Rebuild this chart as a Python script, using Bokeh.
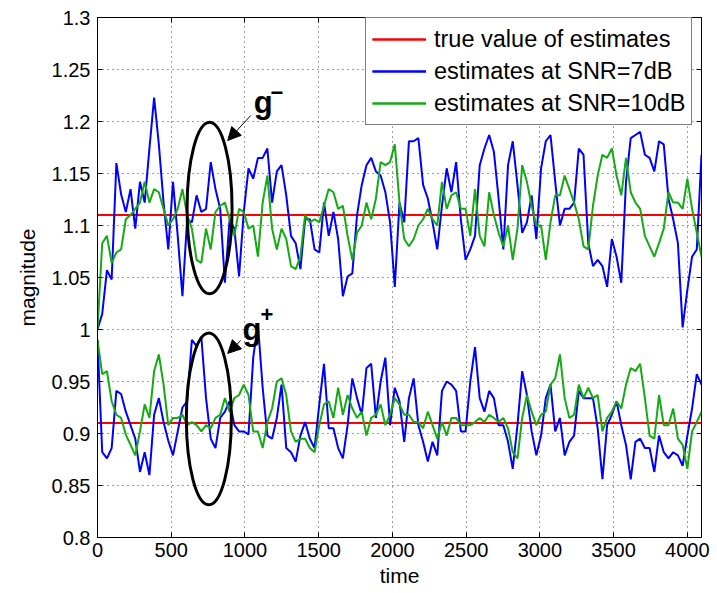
from bokeh.plotting import figure
from bokeh.models import (Legend, LegendItem, FixedTicker, LinearAxis, Range1d,
                          Arrow, NormalHead, Label)
from bokeh.embed import file_html
from bokeh.resources import INLINE

# ---------------- data ----------------
time = list(range(0, 4097, 32))

true_values = [1.11, 0.91]

blue_upper = [
    1.0, 1.015, 1.057, 1.048, 1.16, 1.13, 1.113, 1.135, 1.097, 1.142, 1.122, 1.174, 1.223, 1.178, 1.122, 1.077, 1.142,
    1.09, 1.032, 1.106, 1.103, 1.129, 1.113, 1.116, 1.161, 1.135, 1.116, 1.045, 1.106, 1.097, 1.051, 1.113, 1.155,
    1.145, 1.165, 1.165, 1.174, 1.122, 1.152, 1.158, 1.129, 1.09, 1.083, 1.058, 1.106, 1.106, 1.077, 1.074, 1.122,
    1.09, 1.113, 1.087, 1.032, 1.051, 1.054, 1.11, 1.139, 1.158, 1.165, 1.152, 1.148, 1.132, 1.103, 1.041, 1.122,
    1.103, 1.181, 1.181, 1.184, 1.139, 1.126, 1.103, 1.077, 1.119, 1.155, 1.132, 1.161, 1.106, 1.067, 1.077,
    1.09, 1.158, 1.174, 1.187, 1.171, 1.126, 1.077, 1.158, 1.181, 1.139, 1.093, 1.103, 1.129, 1.087, 1.155, 1.181,
    1.187, 1.142, 1.10, 1.116, 1.116, 1.122, 1.174, 1.168, 1.083, 1.061, 1.067, 1.061, 1.041, 1.087, 1.07, 1.045,
    1.142, 1.184, 1.187, 1.19, 1.168, 1.165, 1.152, 1.181, 1.178, 1.126, 1.106, 1.083, 1.002, 1.038, 1.07, 1.077, 1.168,
]

green_upper = [
    1.0, 1.083, 1.09, 1.064, 1.074, 1.077, 1.106, 1.11, 1.116, 1.122, 1.142, 1.122, 1.135, 1.132, 1.116, 1.10, 1.106,
    1.116, 1.135, 1.11, 1.097, 1.067, 1.064, 1.097, 1.077, 1.113, 1.119, 1.122, 1.106, 1.09, 1.116, 1.113, 1.097,
    1.10, 1.07, 1.122, 1.148, 1.097, 1.077, 1.097, 1.087, 1.061, 1.058, 1.07, 1.11, 1.103, 1.106, 1.103, 1.119,
    1.135, 1.132, 1.116, 1.119, 1.09, 1.067, 1.093, 1.10, 1.122, 1.106, 1.126, 1.161, 1.158, 1.161, 1.178, 1.122,
    1.087, 1.08, 1.087, 1.10, 1.106, 1.116, 1.106, 1.10, 1.142, 1.116, 1.129, 1.132, 1.116, 1.116, 1.09,
    1.135, 1.09, 1.08, 1.132, 1.11, 1.093, 1.08, 1.10, 1.067, 1.097, 1.158, 1.142, 1.119, 1.10, 1.10, 1.067,
    1.103, 1.129, 1.129, 1.148, 1.135, 1.122, 1.106, 1.08, 1.077, 1.119, 1.148, 1.168, 1.165, 1.174, 1.148, 1.129,
    1.165, 1.132, 1.122, 1.116, 1.09, 1.08, 1.07, 1.083, 1.097, 1.132, 1.122, 1.122, 1.116, 1.145, 1.116, 1.093, 1.07,
]

blue_lower = [
    0.99, 0.882, 0.876, 0.886, 0.941, 0.938, 0.921, 0.908, 0.895, 0.863, 0.882, 0.86, 0.918, 0.934, 0.911, 0.893, 0.879,
    0.902, 0.925, 0.931, 0.99, 0.984, 0.993, 0.934, 0.895, 0.886, 0.915, 0.921, 0.931, 0.908, 0.902, 0.902, 0.899,
    0.973, 1.005, 0.944, 0.898, 0.895, 0.915, 0.947, 0.886, 0.882, 0.873, 0.898, 0.911, 0.895, 0.886, 0.928, 0.967,
    0.905, 0.905, 0.886, 0.876, 0.908, 0.953, 0.934, 0.918, 0.963, 0.967, 0.915, 0.95, 0.973, 0.908, 0.944, 0.931,
    0.892, 0.934, 0.953, 0.908, 0.892, 0.873, 0.892, 0.879, 0.941, 0.95, 0.947, 0.941, 0.902, 0.902, 0.95,
    0.983, 0.934, 0.921, 0.941, 0.934, 0.908, 0.908, 0.892, 0.866, 0.908, 0.96, 0.937, 0.902, 0.879, 0.898, 0.934,
    0.947, 0.902, 0.915, 0.879, 0.892, 0.898, 0.941, 0.934, 0.934, 0.934, 0.905, 0.856, 0.908, 0.918, 0.931, 0.908,
    0.889, 0.856, 0.892, 0.895, 0.886, 0.886, 0.863, 0.898, 0.882, 0.876, 0.882, 0.879, 0.869, 0.898, 0.924, 0.957, 0.947,
]

green_lower = [
    0.99, 0.957, 0.96, 0.931, 0.918, 0.915, 0.899, 0.889, 0.879, 0.902, 0.928, 0.915, 0.96, 0.976, 0.947, 0.908, 0.915,
    0.915, 0.918, 0.908, 0.911, 0.908, 0.902, 0.908, 0.905, 0.915, 0.918, 0.934, 0.921, 0.934, 0.937, 0.947, 0.937,
    0.902, 0.902, 0.886, 0.911, 0.924, 0.95, 0.953, 0.937, 0.902, 0.892, 0.895, 0.895, 0.886, 0.882, 0.908, 0.928,
    0.931, 0.915, 0.944, 0.918, 0.937, 0.924, 0.915, 0.921, 0.898, 0.915, 0.918, 0.928, 0.908, 0.918, 0.934, 0.928,
    0.918, 0.918, 0.911, 0.911, 0.905, 0.921, 0.908, 0.895, 0.911, 0.898, 0.915, 0.915, 0.908, 0.908, 0.908,
    0.911, 0.915, 0.911, 0.918, 0.915, 0.911, 0.915, 0.905, 0.882, 0.876, 0.915, 0.937, 0.921, 0.908, 0.918, 0.921,
    0.947, 0.953, 0.976, 0.934, 0.915, 0.918, 0.947, 0.934, 0.944, 0.934, 0.937, 0.902, 0.915, 0.921, 0.931, 0.924,
    0.947, 0.963, 0.96, 0.967, 0.934, 0.898, 0.895, 0.937, 0.908, 0.908, 0.924, 0.895, 0.889, 0.866, 0.902, 0.911, 0.921,
]

x_ticks = [0, 500, 1000, 1500, 2000, 2500, 3000, 3500, 4000]
x_tick_labels = ["0", "500", "1000", "1500", "2000", "2500", "3000", "3500", "4000"]
y_ticks = [0.8, 0.85, 0.9, 0.95, 1.0, 1.05, 1.1, 1.15, 1.2, 1.25, 1.3]
y_tick_labels = ["0.8", "0.85", "0.9", "0.95", "1", "1.05", "1.1", "1.15", "1.2", "1.25", "1.3"]

legend_labels = ["true value of estimates", "estimates at SNR=7dB", "estimates at SNR=10dB"]

# annotation: ellipses (centre time, centre value), arrows and labels
ellipse_x = [760, 755]
ellipse_y = [1.1168, 0.9141]
ellipse_w = 305
ellipse_h = 0.165
arrow_start = [(1039, 1.2058), (971, 0.9894)]
arrow_end = [(883, 1.1817), (883, 0.977)]
g_pos = [(1059, 1.2185), (984, 1.0003)]
sup_text = ["\u2212", "+"]
sup_pos = [(1174, 1.2279), (1106, 1.0144)]

# ---------------- style ----------------
FONT = "Liberation Sans"
RED, BLUE, GREEN = "#FF0000", "#0000FF", "#14AA14"

p = figure(width=717, height=593, x_range=Range1d(0, 4096), y_range=Range1d(0.8, 1.3),
           output_backend="svg", toolbar_location=None,
           min_border_left=97, min_border_right=16, min_border_top=17, min_border_bottom=56)
p.background_fill_color = "white"
p.border_fill_color = "white"
p.outline_line_color = "black"
p.outline_line_width = 1

r_red = [p.line(x=[time[0], time[-1]], y=[v, v], line_color=RED, line_width=2) for v in true_values]
r_blue = [p.line(x=time, y=s, line_color=BLUE, line_width=2) for s in (blue_upper, blue_lower)]
r_green = [p.line(x=time, y=s, line_color=GREEN, line_width=2) for s in (green_upper, green_lower)]

p.ellipse(x=ellipse_x, y=ellipse_y, width=ellipse_w, height=ellipse_h,
          fill_color=None, line_color="black", line_width=3)

for (xs, ys), (xe, ye) in zip(arrow_start, arrow_end):
    p.add_layout(Arrow(x_start=xs, y_start=ys, x_end=xe, y_end=ye, line_width=1, line_color="black",
                       end=NormalHead(size=13, fill_color="black", line_color="black", line_width=1)))

for (gx, gy), st, (sx, sy) in zip(g_pos, sup_text, sup_pos):
    p.add_layout(Label(x=gx, y=gy, text="g", text_font=FONT, text_font_size="31px", text_color="black",
                       text_font_style="bold", text_align="left", text_baseline="alphabetic"))
    p.add_layout(Label(x=sx, y=sy, text=st, text_font=FONT, text_font_size="22px", text_color="black",
                       text_font_style="bold", text_align="left", text_baseline="middle"))

# axes
for ax in (p.xaxis[0], p.yaxis[0]):
    ax.major_label_text_font = FONT
    ax.major_label_text_font_size = "20px"
    ax.major_label_text_color = "black"
    ax.axis_label_text_font = FONT
    ax.axis_label_text_font_size = "21px"
    ax.axis_label_text_font_style = "normal"
    ax.axis_label_text_color = "black"
    ax.axis_line_color = "black"
    ax.major_tick_in = 5
    ax.major_tick_out = 0
    ax.minor_tick_line_color = None
    ax.major_tick_line_color = "black"

p.xaxis[0].ticker = FixedTicker(ticks=x_ticks)
p.xaxis[0].major_label_overrides = dict(zip(x_ticks, x_tick_labels))
p.xaxis[0].axis_label = "time"
p.xaxis[0].major_label_standoff = 5
p.xaxis[0].axis_label_standoff = 4
p.yaxis[0].ticker = FixedTicker(ticks=y_ticks)
p.yaxis[0].major_label_overrides = dict(zip(y_ticks, y_tick_labels))
p.yaxis[0].axis_label = "magnitude"
p.yaxis[0].major_label_standoff = 7
p.yaxis[0].axis_label_standoff = 10

# tick-only axes on top and right (labels left empty)
top = LinearAxis(ticker=FixedTicker(ticks=x_ticks), major_label_overrides={t: "" for t in x_ticks},
                 major_tick_in=5, major_tick_out=0, minor_tick_line_color=None, axis_line_color=None,
                 major_label_standoff=0)
right = LinearAxis(ticker=FixedTicker(ticks=y_ticks), major_label_overrides={t: "" for t in y_ticks},
                   major_tick_in=5, major_tick_out=0, minor_tick_line_color=None, axis_line_color=None,
                   major_label_standoff=0)
p.add_layout(top, "above")
p.add_layout(right, "right")

# grid
for g in (p.xgrid[0], p.ygrid[0]):
    g.grid_line_color = "black"
    g.grid_line_alpha = 0.75
    g.grid_line_dash = "1 4"
    g.grid_line_width = 1
p.xgrid[0].ticker = FixedTicker(ticks=x_ticks)
p.ygrid[0].ticker = FixedTicker(ticks=y_ticks)

legend = Legend(items=[LegendItem(label=legend_labels[0], renderers=r_red),
                       LegendItem(label=legend_labels[1], renderers=r_blue),
                       LegendItem(label=legend_labels[2], renderers=r_green)],
                location=(268, 412), orientation="vertical")
legend.label_text_font = FONT
legend.label_text_font_size = "23.5px"
legend.label_text_color = "black"
legend.glyph_width = 54
legend.glyph_height = 30
legend.label_height = 30
legend.label_standoff = 8
legend.spacing = 2
legend.padding = 6
legend.margin = 0
legend.border_line_color = "black"
legend.border_line_width = 1
legend.background_fill_color = "white"
legend.background_fill_alpha = 1
p.add_layout(legend)

open("out.html", "w").write(file_html(p, INLINE))
